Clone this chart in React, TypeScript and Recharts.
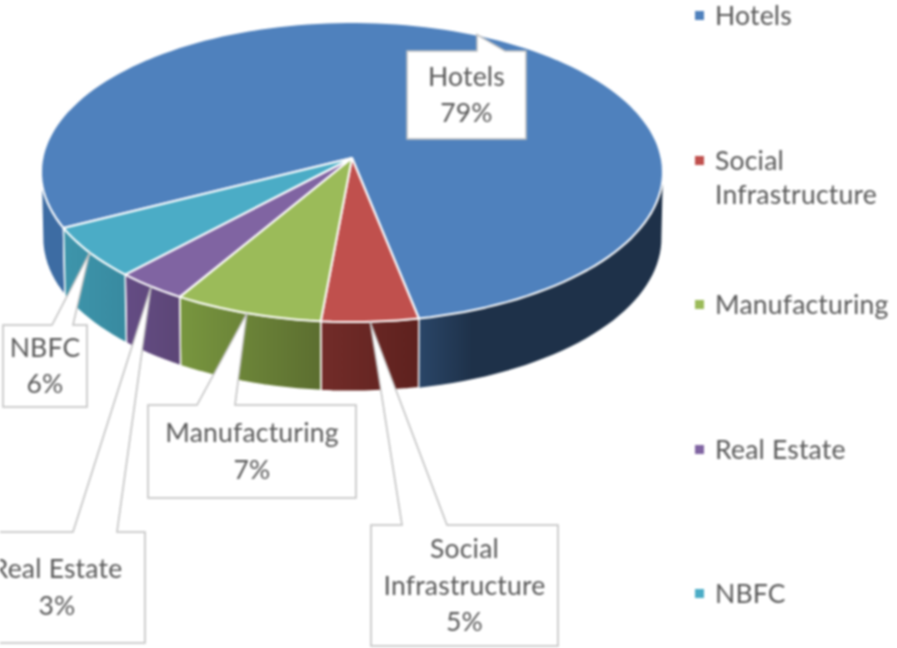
import React from "react";
import { PieChart, Pie, Legend } from "recharts";

const categories = ["Hotels", "Social Infrastructure", "Manufacturing", "Real Estate", "NBFC"];
const shares = [79.3, 4.6, 7.1, 3.4, 5.6];
const colors = ["#4f81bd", "#c0504d", "#9bbb59", "#8064a2", "#4bacc6"];
const wallFrom = ["#2a4668", "#722c29", "#78963f", "#644c84", "#3e95ab"];
const wallTo = ["#1e3149", "#5e211e", "#5c6e30", "#5c4676", "#388aa0"];
const hotelsBackWall = "#3d6ca3";

// label box [x, y, w, h, wedgeStart, wedgeEnd]
const boxes = [
  [407, 51, 119, 88, 477, 505],
  [371, 525, 187, 121, 402, 447],
  [148, 405, 208, 93, 197, 235],
  [-20, 532, 165, 111, 73, 117],
  [3, 325, 84, 82, 52, 73],
];

const data = categories.map((name, i) => ({ name, value: shares[i], fill: colors[i] }));

const W = 897, H = 648, CX = 352, CY = 158;
const K = -0.0933, AY = 148.7, BX = 309.6;
const FONT = "Lato, 'Open Sans', sans-serif";
const FONT_SIZE = 26.5;
const SPACING = 0.2;
const RAD = Math.PI / 180;

function project(deg: number, depth = 0) {
  const u = Math.cos(deg * RAD);
  const v = -Math.sin(deg * RAD);
  const d = 1 + K * v;
  const sx = depth ? 0.995 : 1;
  const sy = depth ? 1.02 : 1;
  return [CX + (BX * sx * u) / d, CY + depth + (AY * sy * v) / d];
}

function arc(from: number, to: number, depth = 0) {
  const n = Math.max(2, Math.ceil(Math.abs(to - from) / 2));
  const pts: number[][] = [];
  for (let i = 0; i <= n; i++) pts.push(project(from + ((to - from) * i) / n, depth));
  return pts;
}

const toPath = (pts: number[][]) =>
  pts.map((p, i) => `${i ? "L" : "M"}${p[0].toFixed(1)},${p[1].toFixed(1)}`).join("") + "Z";

const DEPTH = 66;

function SliceShape(props: any) {
  const { startAngle, endAngle, fill, index } = props;
  const hi = Math.max(startAngle, endAngle);
  const lo = Math.min(startAngle, endAngle);
  const walls: { a: number; b: number; back: boolean }[] = [];
  const a1 = Math.max(lo, -175), b1 = Math.min(hi, -5);
  if (b1 > a1) walls.push({ a: a1, b: b1, back: false });
  const a2 = Math.max(lo, 185), b2 = Math.min(hi, 355);
  if (b2 > a2) walls.push({ a: a2, b: b2, back: true });
  const top = [[CX, CY], ...arc(startAngle, endAngle)];
  const id = `wall-${index}`;
  return (
    <g>
      <defs>
        <linearGradient id={id} x1="0" y1="0" x2="1" y2="0">
          <stop offset="0%" stopColor={wallFrom[index]} />
          <stop offset={index === 0 ? "22%" : "100%"} stopColor={wallTo[index]} />
        </linearGradient>
      </defs>
      {walls.map((w, i) => (
        <path
          key={i}
          d={toPath([...arc(w.a, w.b), ...arc(w.b, w.a, DEPTH)])}
          fill={w.back ? hotelsBackWall : `url(#${id})`}
          stroke="#ffffff"
          strokeWidth={index === 0 && !w.back ? 0 : 1.5}
        />
      ))}
      <path d={toPath(top)} fill={fill} stroke="#ffffff" strokeWidth={2} strokeLinejoin="round" />
    </g>
  );
}

function Callout(props: any) {
  const { index, midAngle, name, percent } = props;
  const [x, y, w, h, s, e] = boxes[index];
  const tip = project(midAngle);
  const lines = name.length > 15 ? name.split(" ") : [name];
  const all = [...lines, `${Math.round(percent * 100)}%`];
  const r = x + w, b = y + h;
  const d = `M${x},${y}L${s},${y}L${tip[0]},${tip[1]}L${e},${y}L${r},${y}L${r},${b}L${x},${b}Z`;
  const cxT = index === 3 ? 57 : x + w / 2;
  const lh = 36.5;
  const y0 = y + h / 2 - ((all.length - 1) * lh) / 2 + 9.2;
  return (
    <g>
      <path d={d} fill="#ffffff" stroke="#bfbfbf" strokeWidth={1.5} />
      {all.map((t, i) => (
        <text key={i} x={cxT} y={y0 + i * lh} textAnchor="middle" fontFamily={FONT} fontSize={FONT_SIZE} letterSpacing={SPACING} fill="#595959">
          {t}
        </text>
      ))}
    </g>
  );
}

function LegendBox(props: any) {
  const items = props.payload || [];
  return (
    <div style={{ position: "relative", width: W, height: H }}>
      {items.map((it: any, i: number) => (
        <div key={i} style={{ position: "absolute", left: 695, top: -2 + i * 144.6, width: 196 }}>
          <span style={{ position: "absolute", left: 0, top: 13, width: 9, height: 9, background: it.color }} />
          <div style={{ marginLeft: 20, fontFamily: FONT, fontSize: FONT_SIZE, letterSpacing: SPACING, lineHeight: "34px", color: "#595959" }}>
            {it.value}
          </div>
        </div>
      ))}
    </div>
  );
}

export default function App() {
  return (
    <div style={{ position: "absolute", left: 0, top: 0, width: W, height: H, overflow: "hidden", filter: "blur(0.8px)" }}>
      <PieChart width={W} height={H} margin={{ top: 0, right: 0, bottom: 0, left: 0 }}>
        <Pie
          data={data}
          dataKey="value"
          nameKey="name"
          cx={CX}
          cy={CY}
          outerRadius={150}
          startAngle={206.8}
          endAngle={-153.2}
          isAnimationActive={false}
          shape={SliceShape}
          label={Callout}
          labelLine={false}
        />
        <Legend
          content={LegendBox}
          itemSorter={null}
          wrapperStyle={{ position: "absolute", left: 0, top: 0, width: W, height: H }}
        />
      </PieChart>
    </div>
  );
}
